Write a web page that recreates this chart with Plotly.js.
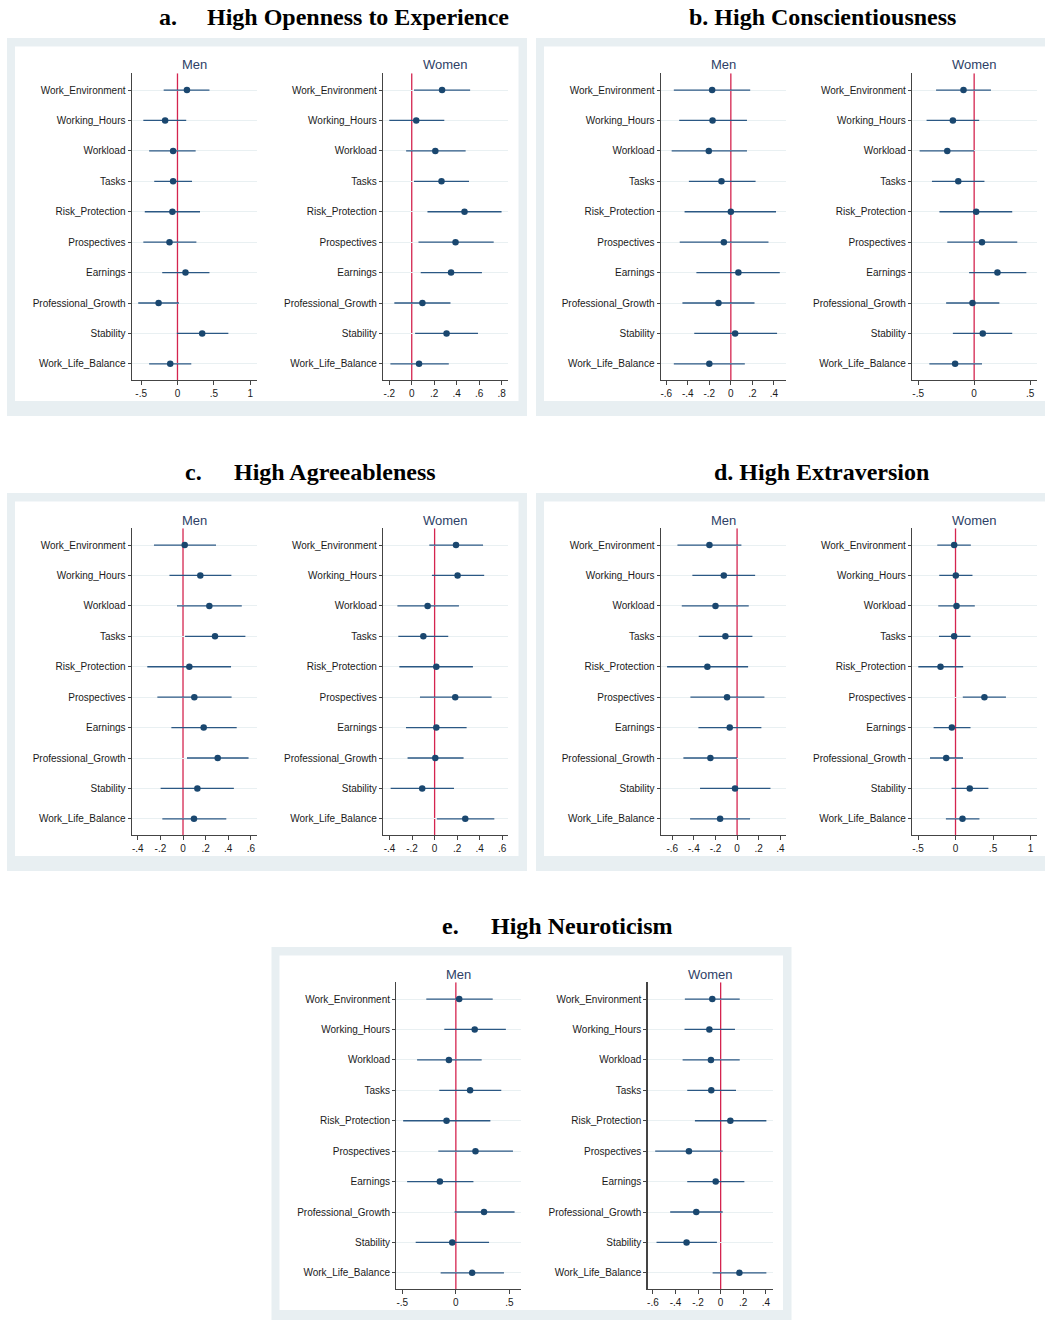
<!DOCTYPE html>
<html>
<head>
<meta charset="utf-8">
<script src="https://cdn.plot.ly/plotly-3.0.1.min.js"></script>
<style>html,body{margin:0;padding:0;background:#fff;}#chart{width:1045px;height:1320px;}</style>
</head>
<body>
<div id="chart"></div>
<script>
// ---------------- DATA ----------------
const categories = ["Work_Environment","Working_Hours","Workload","Tasks","Risk_Protection","Prospectives","Earnings","Professional_Growth","Stability","Work_Life_Balance"];

// a. High Openness to Experience
const openMenEst   = [0.13, -0.17, -0.06, -0.06, -0.07, -0.11, 0.11, -0.26, 0.34, -0.10];
const openMenLo    = [-0.19, -0.47, -0.39, -0.32, -0.45, -0.47, -0.21, -0.54, -0.01, -0.39];
const openMenHi    = [0.44, 0.12, 0.25, 0.20, 0.31, 0.26, 0.44, 0.02, 0.70, 0.19];
const openWomenEst = [0.27, 0.04, 0.21, 0.265, 0.47, 0.39, 0.35, 0.095, 0.31, 0.065];
const openWomenLo  = [0.02, -0.20, -0.05, 0.02, 0.14, 0.06, 0.08, -0.155, 0.03, -0.19];
const openWomenHi  = [0.52, 0.29, 0.48, 0.51, 0.80, 0.73, 0.625, 0.345, 0.59, 0.33];

// b. High Conscientiousness
const consMenEst   = [-0.174, -0.17, -0.205, -0.087, 0.0, -0.065, 0.07, -0.115, 0.04, -0.20];
const consMenLo    = [-0.53, -0.48, -0.55, -0.39, -0.43, -0.475, -0.32, -0.45, -0.34, -0.53];
const consMenHi    = [0.18, 0.15, 0.15, 0.23, 0.42, 0.35, 0.455, 0.22, 0.43, 0.13];
const consWomenEst = [-0.095, -0.19, -0.24, -0.142, 0.018, 0.07, 0.208, -0.015, 0.077, -0.17];
const consWomenLo  = [-0.34, -0.425, -0.487, -0.377, -0.31, -0.24, -0.045, -0.25, -0.19, -0.40];
const consWomenHi  = [0.15, 0.045, 0.0, 0.092, 0.34, 0.385, 0.466, 0.225, 0.34, 0.07];

// c. High Agreeableness
const agreeMenEst   = [0.015, 0.153, 0.233, 0.283, 0.056, 0.10, 0.183, 0.307, 0.127, 0.097];
const agreeMenLo    = [-0.257, -0.12, -0.053, 0.018, -0.316, -0.227, -0.103, 0.035, -0.198, -0.183];
const agreeMenHi    = [0.292, 0.428, 0.52, 0.552, 0.425, 0.43, 0.475, 0.58, 0.45, 0.383];
const agreeWomenEst = [0.19, 0.204, -0.062, -0.10, 0.015, 0.183, 0.015, 0.006, -0.11, 0.272];
const agreeWomenLo  = [-0.047, -0.024, -0.33, -0.322, -0.313, -0.13, -0.254, -0.24, -0.39, 0.02];
const agreeWomenHi  = [0.43, 0.44, 0.216, 0.121, 0.34, 0.506, 0.284, 0.257, 0.172, 0.53];

// d. High Extraversion
const extraMenEst   = [-0.256, -0.123, -0.20, -0.108, -0.275, -0.093, -0.068, -0.247, -0.019, -0.157];
const extraMenLo    = [-0.552, -0.414, -0.512, -0.355, -0.648, -0.432, -0.358, -0.497, -0.343, -0.435];
const extraMenHi    = [0.04, 0.167, 0.108, 0.142, 0.102, 0.253, 0.225, 0.0, 0.309, 0.12];
const extraWomenEst = [-0.018, 0.004, 0.013, -0.018, -0.20, 0.385, -0.049, -0.124, 0.19, 0.093];
const extraWomenLo  = [-0.243, -0.217, -0.23, -0.221, -0.496, 0.097, -0.292, -0.34, -0.053, -0.128];
const extraWomenHi  = [0.204, 0.226, 0.257, 0.20, 0.102, 0.672, 0.20, 0.10, 0.438, 0.319];

// e. High Neuroticism
const neuroMenEst   = [0.031, 0.176, -0.065, 0.133, -0.087, 0.183, -0.149, 0.263, -0.034, 0.152];
const neuroMenLo    = [-0.276, -0.108, -0.362, -0.155, -0.492, -0.164, -0.455, -0.012, -0.375, -0.142];
const neuroMenHi    = [0.344, 0.467, 0.241, 0.424, 0.322, 0.533, 0.164, 0.548, 0.31, 0.449];
const neuroWomenEst = [-0.074, -0.10, -0.086, -0.083, 0.086, -0.281, -0.044, -0.216, -0.302, 0.166];
const neuroWomenLo  = [-0.317, -0.32, -0.337, -0.296, -0.228, -0.58, -0.296, -0.447, -0.568, -0.071];
const neuroWomenHi  = [0.169, 0.127, 0.169, 0.136, 0.405, 0.018, 0.21, 0.018, -0.033, 0.405];

// tick values / labels
const ticksHalf     = [-0.5, 0, 0.5, 1];
const ticksHalfText = ["-.5", "0", ".5", "1"];
const ticksHalf3     = [-0.5, 0, 0.5];
const ticksHalf3Text = ["-.5", "0", ".5"];
const ticksP2a      = [-0.2, 0, 0.2, 0.4, 0.6, 0.8];
const ticksP2aText  = ["-.2", "0", ".2", ".4", ".6", ".8"];
const ticksP6to4     = [-0.6, -0.4, -0.2, 0, 0.2, 0.4];
const ticksP6to4Text = ["-.6", "-.4", "-.2", "0", ".2", ".4"];
const ticksP4to6     = [-0.4, -0.2, 0, 0.2, 0.4, 0.6];
const ticksP4to6Text = ["-.4", "-.2", "0", ".2", ".4", ".6"];

const groupLabels = ["Men", "Women"];

// ---------------- LAYOUT HELPERS ----------------
const W = 1045, H = 1320;
const fx = p => p / W;
const fy = p => 1 - p / H;

const NAVY = '#1a476f';
const CI_COL = '#2b5884';
const RED = '#d4244f';
const BAND = '#e8eff2';
const FONT = 'Liberation Sans, Arial, sans-serif';

const panels = [
  {dx: 0, dy: 0, letter: 'a.', title: 'High Openness to Experience', letterX: 157, titleX: 205,
   men: [openMenEst, openMenLo, openMenHi], women: [openWomenEst, openWomenLo, openWomenHi],
   menRange: [-0.63, 1.09], womenRange: [-0.256, 0.86],
   menTicks: [ticksHalf, ticksHalfText], womenTicks: [ticksP2a, ticksP2aText]},
  {dx: 529, dy: 0, letter: null, title: 'b. High Conscientiousness', titleX: 687,
   men: [consMenEst, consMenLo, consMenHi], women: [consWomenEst, consWomenLo, consWomenHi],
   menRange: [-0.652, 0.51], womenRange: [-0.555, 0.564],
   menTicks: [ticksP6to4, ticksP6to4Text], womenTicks: [ticksHalf3, ticksHalf3Text]},
  {dx: 0, dy: 455, letter: 'c.', title: 'High Agreeableness', letterX: 183, titleX: 232,
   men: [agreeMenEst, agreeMenLo, agreeMenHi], women: [agreeWomenEst, agreeWomenLo, agreeWomenHi],
   menRange: [-0.454, 0.652], womenRange: [-0.458, 0.654],
   menTicks: [ticksP4to6, ticksP4to6Text], womenTicks: [ticksP4to6, ticksP4to6Text]},
  {dx: 529, dy: 455, letter: null, title: 'd. High Extraversion', titleX: 712,
   men: [extraMenEst, extraMenLo, extraMenHi], women: [extraWomenEst, extraWomenLo, extraWomenHi],
   menRange: [-0.707, 0.45], womenRange: [-0.58, 1.09],
   menTicks: [ticksP6to4, ticksP6to4Text], womenTicks: [ticksHalf, ticksHalfText]},
  {dx: 264.5, dy: 909, letter: 'e.', title: 'High Neuroticism', letterX: 440, titleX: 489,
   men: [neuroMenEst, neuroMenLo, neuroMenHi], women: [neuroWomenEst, neuroWomenLo, neuroWomenHi],
   menRange: [-0.557, 0.61], womenRange: [-0.648, 0.462],
   menTicks: [ticksHalf3, ticksHalf3Text], womenTicks: [ticksP6to4, ticksP6to4Text]}
];

const BASE = {
  outer: [7, 527, 38, 416],
  inner: [15, 518.5, 46.5, 401],
  plotX: [[131.7, 256.7], [383, 508.3]],
  plotY: [73.3, 380],
  subY: 65,
  titleY: 17
};

const data = [];
const layout = {
  width: W, height: H,
  margin: {l: 0, r: 0, t: 0, b: 0},
  paper_bgcolor: '#ffffff',
  plot_bgcolor: 'rgba(0,0,0,0)',
  showlegend: false,
  shapes: [],
  annotations: [],
  font: {family: FONT, color: '#1a1a1a'}
};

let k = 0;
panels.forEach(p => {
  // background frame
  layout.shapes.push({type: 'rect', xref: 'paper', yref: 'paper', layer: 'below',
    x0: fx(BASE.outer[0] + p.dx), x1: fx(BASE.outer[1] + p.dx),
    y0: fy(BASE.outer[3] + p.dy), y1: fy(BASE.outer[2] + p.dy),
    fillcolor: BAND, line: {width: 0}});
  layout.shapes.push({type: 'rect', xref: 'paper', yref: 'paper', layer: 'below',
    x0: fx(BASE.inner[0] + p.dx), x1: fx(BASE.inner[1] + p.dx),
    y0: fy(BASE.inner[3] + p.dy), y1: fy(BASE.inner[2] + p.dy),
    fillcolor: '#ffffff', line: {width: 0}});

  // titles
  const tfont = {family: 'Liberation Serif, Times New Roman, serif', size: 24, color: '#000'};
  if (p.letter) {
    layout.annotations.push({xref: 'paper', yref: 'paper', x: fx(p.letterX), y: fy(BASE.titleY + p.dy),
      xanchor: 'left', yanchor: 'middle', showarrow: false, text: '<b>' + p.letter + '</b>', font: tfont});
  }
  layout.annotations.push({xref: 'paper', yref: 'paper', x: fx(p.titleX), y: fy(BASE.titleY + p.dy),
    xanchor: 'left', yanchor: 'middle', showarrow: false, text: '<b>' + p.title + '</b>', font: tfont});

  [[p.men, p.menRange, p.menTicks], [p.women, p.womenRange, p.womenTicks]].forEach((g, gi) => {
    k += 1;
    const xa = 'xaxis' + (k === 1 ? '' : k), ya = 'yaxis' + (k === 1 ? '' : k);
    const xr = 'x' + (k === 1 ? '' : k), yr = 'y' + (k === 1 ? '' : k);
    const [est, lo, hi] = g[0];
    const px = BASE.plotX[gi];
    layout[xa] = {
      domain: [fx(px[0] + p.dx), fx(px[1] + p.dx)],
      anchor: yr, range: g[1],
      tickvals: g[2][0], ticktext: g[2][1],
      showgrid: false, zeroline: false,
      showline: true, linecolor: '#444', linewidth: 1.2,
      ticks: 'outside', ticklen: 4, tickwidth: 1, tickcolor: '#444',
      tickfont: {family: FONT, size: 10, color: '#1a1a1a'},
      fixedrange: true
    };
    layout[ya] = {
      domain: [fy(BASE.plotY[1] + p.dy), fy(BASE.plotY[0] + p.dy)],
      anchor: xr, range: [9.53, -0.55],
      tickvals: categories.map((c, i) => i), ticktext: categories,
      showgrid: true, gridcolor: '#e9f0f2', gridwidth: 1,
      zeroline: false,
      showline: true, linecolor: '#444', linewidth: 1.2,
      ticks: 'outside', ticklen: 3, tickwidth: 1, tickcolor: '#444',
      tickfont: {family: FONT, size: 10, color: '#1a1a1a'},
      fixedrange: true
    };
    // zero reference line
    layout.shapes.push({type: 'line', xref: xr, yref: yr, layer: 'below',
      x0: 0, x1: 0, y0: -0.55, y1: 9.53, line: {color: RED, width: 1.3}});
    // subgroup label
    layout.annotations.push({xref: 'paper', yref: 'paper',
      x: fx((px[0] + px[1]) / 2 + p.dx), y: fy(BASE.subY + p.dy),
      xanchor: 'center', yanchor: 'middle', showarrow: false,
      text: groupLabels[gi], font: {family: FONT, size: 13, color: '#2e3f66'}});

    data.push({
      type: 'scatter', mode: 'markers', xaxis: xr, yaxis: yr,
      x: est, y: categories.map((c, i) => i),
      marker: {color: NAVY, size: 6.5},
      error_x: {type: 'data', symmetric: false,
        array: hi.map((h, i) => h - est[i]),
        arrayminus: lo.map((l, i) => est[i] - l),
        width: 0, thickness: 1.3, color: CI_COL},
      hoverinfo: 'skip', cliponaxis: false
    });
  });
});

Plotly.newPlot('chart', data, layout, {staticPlot: true, displayModeBar: false});
</script>
</body>
</html>
